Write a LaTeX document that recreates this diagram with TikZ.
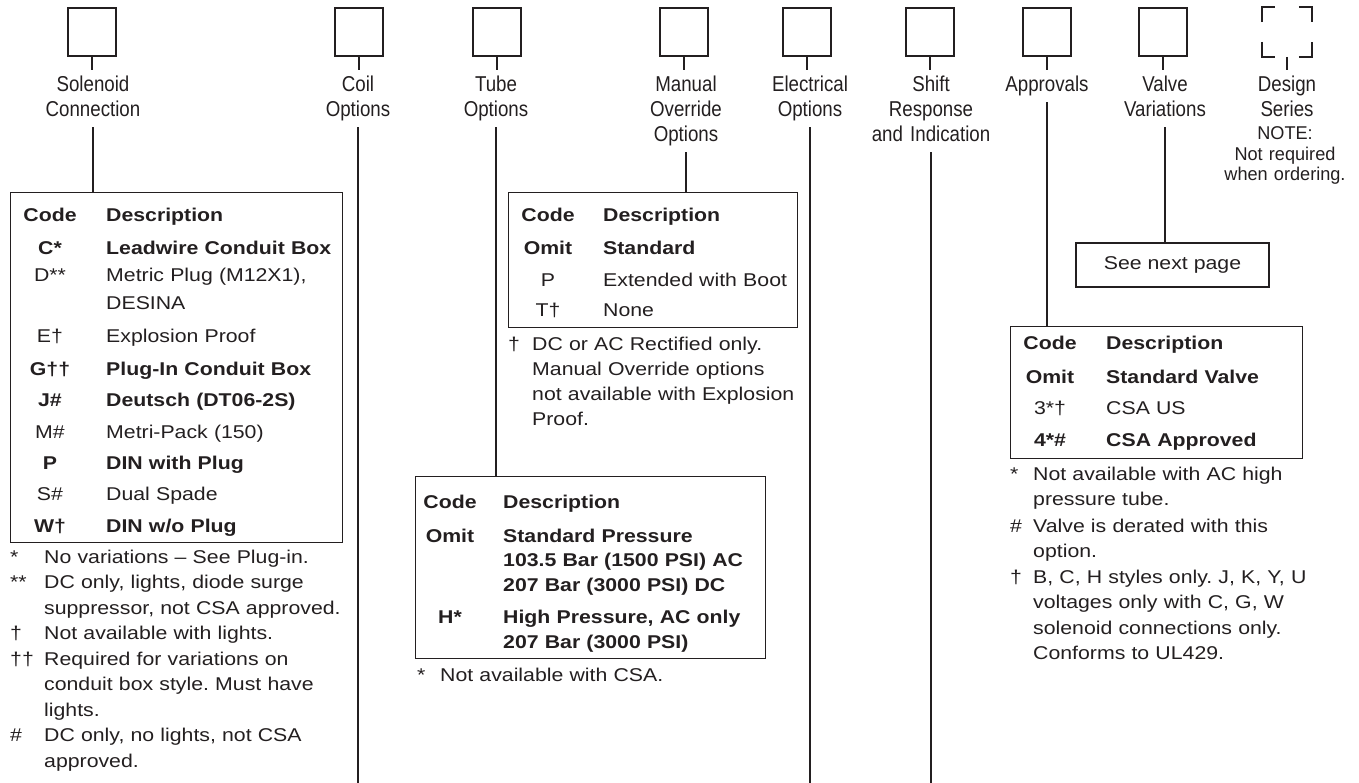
\documentclass[tikz,border=0pt]{standalone}
\usepackage{fontspec}
\newfontfamily\tabfont{Liberation Sans}[FakeStretch=1.15]
\newfontfamily\hdrfont{Liberation Sans}[FakeStretch=0.87]
\newfontfamily\notefont{Liberation Sans}[FakeStretch=0.98]
\frenchspacing
\definecolor{ink}{HTML}{231F20}
\tikzset{
  optbox/.style={draw=ink, line width=1.6pt, minimum width=48pt, minimum height=48pt, inner sep=0pt},
  hdr/.style={text=ink, font=\hdrfont\fontsize{21.5}{25}\selectfont, text width=160pt, align=center, inner sep=0pt, outer sep=6pt, anchor=base, execute at end node={\vphantom{p}}},
  notetext/.style={text=ink, font=\notefont\fontsize{18.5}{20.5}\selectfont, text width=150pt, align=center, inner sep=0pt, anchor=base},
  tabbox/.style={draw=ink, line width=1.4pt, inner sep=0pt, anchor=north west},
  link/.style={draw=ink, line width=1.4pt},
  thinrow/.style={text=ink, font=\tabfont\fontsize{18.5}{25.5}\selectfont, inner sep=0pt},
  boldrow/.style={text=ink, font=\tabfont\bfseries\fontsize{18.5}{25.5}\selectfont, inner sep=0pt},
  codecell/.style={anchor=base},
  desccell/.style={anchor=base west, text width=300pt, align=left},
  fnmark/.style={thinrow, anchor=base west},
  fntext/.style={thinrow, anchor=base west, text width=320pt, align=left}
}
\begin{document}
\begin{tikzpicture}[x=1pt, y=-1pt]
  \useasboundingbox (0,0) rectangle (1359,783);

  % option squares
  \node[optbox] (solsq) at (92,32) {};
  \node[optbox] (coilsq) at (359,32) {};
  \node[optbox] (tubesq) at (497,32) {};
  \node[optbox] (mansq) at (684,32) {};
  \node[optbox] (elecsq) at (807,32) {};
  \node[optbox] (shiftsq) at (930,32) {};
  \node[optbox] (appsq) at (1047,32) {};
  \node[optbox] (valvesq) at (1163,32) {};
  \node[optbox, draw=none] (dessq) at (1287,32) {};%only the corners
  \draw[link, line width=1.6pt] ([yshift=-15pt]dessq.north west) |- ([xshift=13pt]dessq.north west);
  \draw[link, line width=1.6pt] ([xshift=-13pt]dessq.north east) -| ([yshift=-15pt]dessq.north east);
  \draw[link, line width=1.6pt] ([yshift=15pt]dessq.south west) |- ([xshift=13pt]dessq.south west);
  \draw[link, line width=1.6pt] ([xshift=-13pt]dessq.south east) -| ([yshift=15pt]dessq.south east);

  % labels
  \node[hdr] (sollbl) at (93,92) {Solenoid\\Connection};
  \node[hdr] (coillbl) at (358,92) {Coil\\Options};
  \node[hdr] (tubelbl) at (496,92) {Tube\\Options};
  \node[hdr] (manlbl) at (686,92) {Manual\\Override\\Options};
  \node[hdr] (eleclbl) at (810,92) {Electrical\\Options};
  \node[hdr] (shiftlbl) at (931,92) {Shift\\Response\\and Indication};
  \node[hdr] (applbl) at (1047,92) {Approvals};
  \node[hdr] (valvelbl) at (1165,92) {Valve\\Variations};
  \node[hdr] (deslbl) at (1287,92) {Design\\Series};
  \node[notetext] (desnote) at (1285,140) {NOTE:\\Not required\\when ordering.};

  \foreach \sq/\lb in {solsq/sollbl, coilsq/coillbl, tubesq/tubelbl, mansq/manlbl, elecsq/eleclbl, shiftsq/shiftlbl, appsq/applbl, valvesq/valvelbl, dessq/deslbl}
    \draw[link] (\sq.south) -- (\sq.south |- \lb.north);%short ticks

  % tables
  \node[tabbox, minimum width=332pt, minimum height=350pt] (soltab) at (10,192) {};
  \node[tabbox, minimum width=289pt, minimum height=135pt] (mantab) at (508,192) {};
  \node[tabbox, minimum width=350pt, minimum height=182pt] (tubetab) at (415,476) {};
  \node[tabbox, minimum width=292pt, minimum height=132pt] (apptab) at (1010,326) {};
  \node[draw=ink, line width=1.4pt, thinrow, minimum width=193pt, minimum height=44pt] (nextbox) at (1172.5,265) {See next page};

  \coordinate (coilend) at (358,783);
  \coordinate (elecend) at (810,783);
  \coordinate (shiftend) at (931,783);
  \draw[link] (sollbl.south) -- (sollbl.south |- soltab.north);
  \draw[link] (coillbl.south) -- (coilend);
  \draw[link] (tubelbl.south) -- (tubelbl.south |- tubetab.north);
  \draw[link] (manlbl.south) -- (manlbl.south |- mantab.north);
  \draw[link] (eleclbl.south) -- (elecend);
  \draw[link] (shiftlbl.south) -- (shiftend);
  \draw[link] (applbl.south) -- (applbl.south |- apptab.north);
  \draw[link] (valvelbl.south) -- (valvelbl.south |- nextbox.north);

  % solenoid connection
  \foreach \c/\d/\yy/\s [count=\i] in {Code/Description/222/boldrow, C*/Leadwire Conduit Box/255/boldrow,
      D**/{Metric Plug (M12X1),\\[2.5pt]DESINA}/282/thinrow, E†/Explosion Proof/342/thinrow,
      G††/Plug-In Conduit Box/375/boldrow, J\#/{Deutsch (DT06-2S)}/406/boldrow,
      M\#/{Metri-Pack (150)}/438/thinrow, P/DIN with Plug/469/boldrow,
      S\#/Dual Spade/500/thinrow, W†/{DIN w/o Plug}/532/boldrow}
  {
    \node[\s, codecell] (sc\i) at (50,\yy) {\c};
    \node[\s, desccell] (sd\i) at (106,\yy) {\d};
  }
  \foreach \m/\t/\yy [count=\i] in {*/{No variations – See Plug-in.}/563,
      **/{DC only, lights, diode surge\\suppressor, not CSA approved.}/588.5,
      †/{Not available with lights.}/639.5,
      ††/{Required for variations on\\conduit box style. Must have\\lights.}/665,
      \#/{DC only, no lights, not CSA\\approved.}/741.5}
  {
    \node[fnmark] (sm\i) at (10,\yy) {\m};
    \node[fntext] (sn\i) at (44,\yy) {\t};
  }

  % manual override
  \foreach \c/\d/\yy/\s [count=\i] in {Code/Description/222/boldrow, Omit/Standard/255/boldrow,
      P/Extended with Boot/287/thinrow, T†/None/317/thinrow}
  {
    \node[\s, codecell] (mc\i) at (548,\yy) {\c};
    \node[\s, desccell] (md\i) at (603,\yy) {\d};
  }
  \node[fnmark] (mm1) at (508,350) {†};
  \node[fntext, font=\tabfont\fontsize{18.5}{25}\selectfont] (mn1) at (532,350) {DC or AC Rectified only.\\Manual Override options\\not available with Explosion\\Proof.};

  % tube
  \foreach \c/\d/\yy/\s [count=\i] in {Code/Description/508/boldrow,
      Omit/{Standard Pressure\\[-1pt]103.5 Bar (1500 PSI) AC\\[-1pt]207 Bar (3000 PSI) DC}/542/boldrow,
      H*/{High Pressure, AC only\\207 Bar (3000 PSI)}/623/boldrow}
  {
    \node[\s, codecell] (tc\i) at (450,\yy) {\c};
    \node[\s, desccell] (td\i) at (503,\yy) {\d};
  }
  \node[fnmark] (tm1) at (417,681) {*};
  \node[fntext] (tn1) at (440,681) {Not available with CSA.};

  % approvals
  \foreach \c/\d/\yy/\s [count=\i] in {Code/Description/349/boldrow, Omit/Standard Valve/383/boldrow,
      3*†/CSA US/414/thinrow, 4*\#/CSA Approved/446/boldrow}
  {
    \node[\s, codecell] (ac\i) at (1050,\yy) {\c};
    \node[\s, desccell] (ad\i) at (1106,\yy) {\d};
  }
  \foreach \m/\t/\yy [count=\i] in {*/{Not available with AC high\\pressure tube.}/480,
      \#/{Valve is derated with this\\option.}/532,
      †/{B, C, H styles only. J, K, Y, U\\voltages only with C, G, W\\solenoid connections only.\\Conforms to UL429.}/583}
  {
    \node[fnmark] (am\i) at (1010,\yy) {\m};
    \node[fntext] (an\i) at (1033,\yy) {\t};
  }
\end{tikzpicture}
\end{document}
